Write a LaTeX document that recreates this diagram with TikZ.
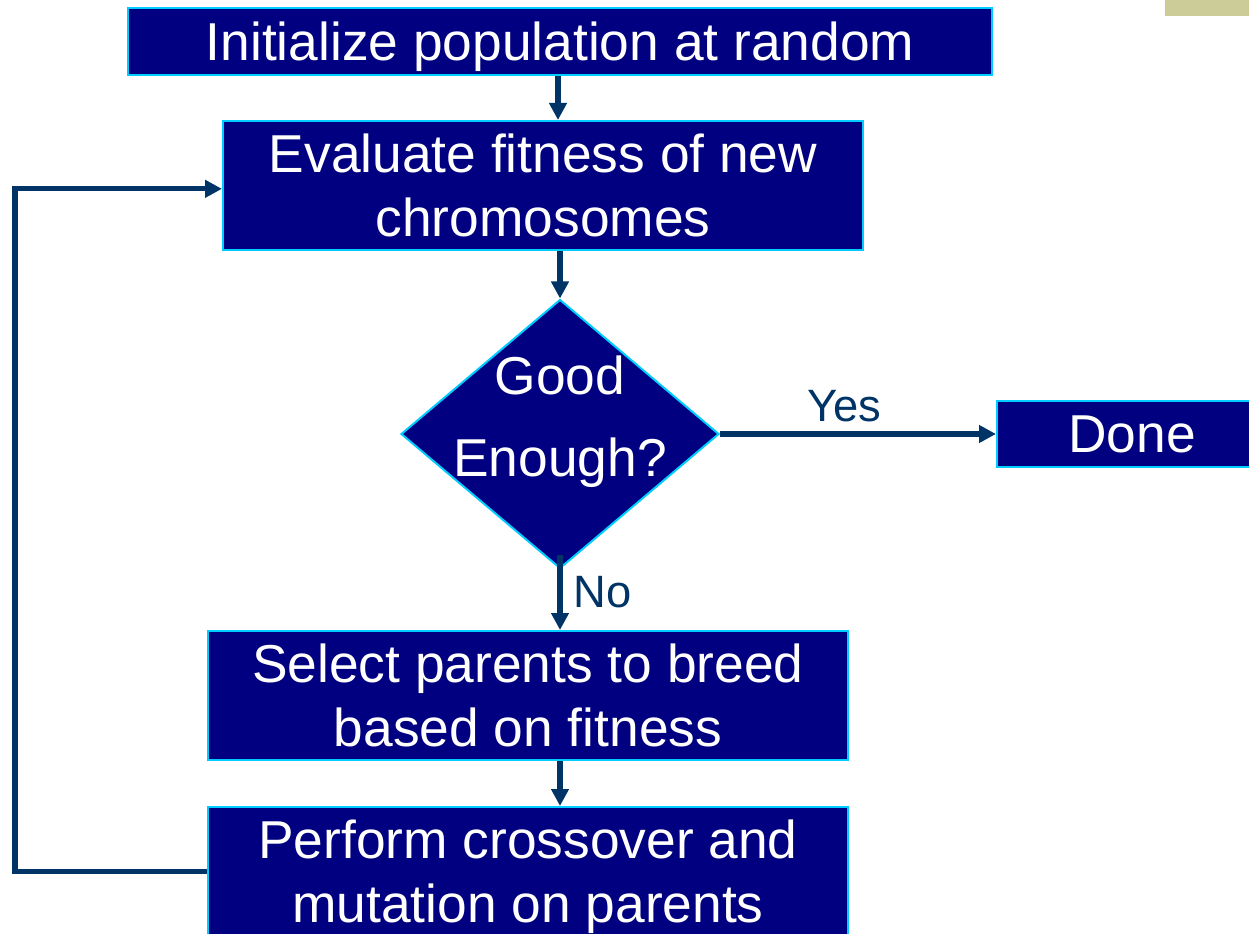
\documentclass[tikz,border=0pt]{standalone}
\usepackage{fontspec}
\setmainfont{Liberation Sans}
\usetikzlibrary{positioning,shapes.geometric,arrows.meta}

\definecolor{boxfill}{RGB}{0,0,128}
\definecolor{boxedge}{RGB}{0,204,255}
\definecolor{arrowblue}{RGB}{0,51,102}
\definecolor{tabtan}{RGB}{204,204,153}

\tikzstyle{block} = [rectangle, draw=boxedge, fill=boxfill, line width=1.5pt, text=white, align=center, inner sep=0pt, font=\fontsize{40}{48}\selectfont]
\tikzstyle{decision} = [diamond, draw=boxedge, fill=boxfill, line width=1.5pt, inner sep=0pt, minimum width=238.5pt, minimum height=201.75pt]
\tikzstyle{line} = [draw, arrowblue, line width=4pt, -{Triangle[length=12.75pt,width=12.75pt]}]
\tikzstyle{answer} = [text=arrowblue, font=\fontsize{34}{40}\selectfont]

\begin{document}
\begin{tikzpicture}[x=0.75pt, y=-0.75pt]
	\useasboundingbox (0,0) rectangle (1249,934);
	\fill[tabtan] (1165,0) rectangle (1249,16);

	\node[block, minimum width=648pt, minimum height=50.25pt, text depth=0pt] (init) at (560,41.5) {Initialize population at random};
	\node[block, minimum width=480pt, minimum height=96.75pt] (eval) at (543,185.5) {Evaluate fitness of new\\chromosomes};
	\node[decision, label={[text=white, align=center, font=\fontsize{40}{61.5}\selectfont, yshift=9pt]center:Good\\Enough?}] (good) at (560,434) {};
	\node[block, minimum width=202.5pt, minimum height=49.5pt, right=207pt of good] (done) {Done};
	\node[block, minimum width=480pt, minimum height=96.75pt] (select) at (528,695.5) {Select parents to breed\\based on fitness};
	\node[block, minimum width=480pt, minimum height=96.75pt, text depth=0pt] (cross) at (528,871.5) {Perform crossover and\\mutation on parents};
	\coordinate (loop) at (15,500);

	\path[line] ([xshift=-1.5pt]init.south) -- ([xshift=-1.5pt]init.south |- eval.north);
	\path[line] (good.north |- eval.south) -- (good.north);
	\path[line] (good.east) -- node[answer, above, pos=0.45, yshift=4pt] (yes) {Yes} (done.west);
	\path[line] ([yshift=11pt]good.south) -- node[answer, right, xshift=5pt] (no) {No} (good.south |- select.north);
	\path[line] (good.south |- select.south) -- (good.south |- cross.north);
	\path[line] (cross.west) -| (loop) |- ([yshift=-2.5pt]eval.west);
\end{tikzpicture}
\end{document}
